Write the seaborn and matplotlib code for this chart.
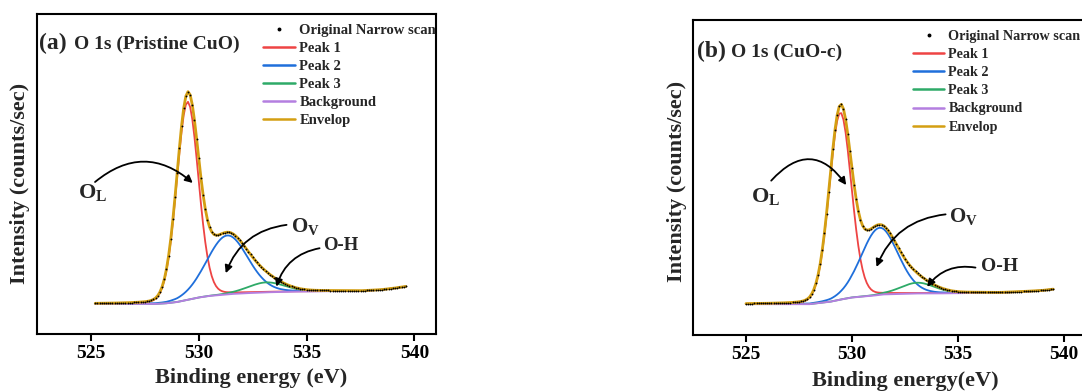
import numpy as np
import matplotlib
matplotlib.use("Agg")
import matplotlib.pyplot as plt
from matplotlib.lines import Line2D
import seaborn as sns

# ---------------- data ----------------
# energy grid of the narrow scans (eV)
scan_range_a = [525.2, 539.6]
scan_range_b = [525.0, 539.5]
scan_step = 0.1

# fitted components: centre (eV), height (axis fraction), FWHM (eV)
peak_names = ["Peak 1", "Peak 2", "Peak 3"]
peak_centers_a = [529.48, 531.32, 533.13]
peak_heights_a = [0.619, 0.184, 0.031]
peak_fwhm_a = [1.19, 2.24, 2.0]

peak_centers_b = [529.45, 531.30, 533.10]
peak_heights_b = [0.594, 0.213, 0.034]
peak_fwhm_b = [1.23, 2.05, 1.9]

lorentz_fraction = 0.1

# background (Shirley-like) read at several energies
bg_energy_a = [525.2, 528.0, 528.5, 529.0, 529.5, 530.0, 530.5, 531.0, 531.5,
               532.0, 533.0, 534.0, 536.0, 537.5, 538.5, 539.0, 539.6]
bg_level_a = [0.094, 0.094, 0.096, 0.100, 0.107, 0.114, 0.119, 0.122, 0.125,
              0.127, 0.130, 0.132, 0.134, 0.134, 0.138, 0.142, 0.148]

bg_energy_b = [525.0, 528.0, 528.5, 529.0, 529.5, 530.0, 530.5, 531.0, 531.5,
               532.0, 533.0, 534.0, 535.0, 536.0, 537.0, 538.0, 539.0, 539.5]
bg_level_b = [0.098, 0.098, 0.102, 0.106, 0.113, 0.119, 0.122, 0.125, 0.129,
              0.130, 0.132, 0.132, 0.133, 0.134, 0.134, 0.137, 0.141, 0.145]

x_ticks = [525, 530, 535, 540]
x_limits = [522.5, 541.0]

colors = {"Peak 1": "#EE4444", "Peak 2": "#1F6FDB", "Peak 3": "#2EAA68",
          "Background": "#B47FE0", "Envelop": "#D49F12"}

# ---------------- style ----------------
sns.set_theme(style="white")
plt.rcParams["font.family"] = ["Liberation Serif", "DejaVu Serif"]
plt.rcParams["font.weight"] = "bold"
plt.rcParams["axes.labelweight"] = "bold"
plt.rcParams["mathtext.fontset"] = "custom"
plt.rcParams["mathtext.rm"] = "Liberation Serif"
plt.rcParams["mathtext.bf"] = "Liberation Serif:bold"
plt.rcParams["mathtext.it"] = "Liberation Serif:italic"


def line_shape(x, c, h, w, eta):
    sig = w / 2.3548
    g = np.exp(-0.5 * ((x - c) / sig) ** 2)
    lo = 1.0 / (1.0 + ((x - c) / (w / 2.0)) ** 2)
    return h * ((1 - eta) * g + eta * lo)


def draw_panel(ax, rng, centers, heights, fwhms, bg_e, bg_y):
    x = np.arange(rng[0], rng[1] + 1e-6, scan_step)
    bg = np.interp(x, bg_e, bg_y)
    comps = [line_shape(x, c, h, w, lorentz_fraction)
             for c, h, w in zip(centers, heights, fwhms)]
    env = bg + np.sum(comps, axis=0)
    for name, comp in zip(peak_names, comps):
        sns.lineplot(x=x, y=bg + comp, ax=ax, color=colors[name], lw=1.3,
                     sort=False, estimator=None, legend=False)
    sns.lineplot(x=x, y=bg, ax=ax, color=colors["Background"], lw=1.4,
                 sort=False, estimator=None, legend=False)
    sns.lineplot(x=x, y=env, ax=ax, color=colors["Envelop"], lw=2.0,
                 sort=False, estimator=None, legend=False)
    sns.scatterplot(x=x, y=env, ax=ax, color="black", s=1.8, linewidth=0,
                    legend=False, zorder=5)

    ax.set_xlim(*x_limits)
    ax.set_ylim(0, 1)
    ax.set_yticks([])
    ax.set_xticks(x_ticks)
    ax.set_xticklabels([str(t) for t in x_ticks], fontsize=14, fontweight="bold")
    ax.tick_params(axis="x", direction="out", length=5, width=1.5, pad=3,
                   bottom=True, colors="black")
    ax.set_xlabel("")
    ax.set_ylabel("")
    for sp in ax.spines.values():
        sp.set_linewidth(1.5)
        sp.set_color("black")
        sp.set_visible(True)


def add_legend(ax, anchor, size, spacing):
    handles = [Line2D([], [], color="black", marker="o", ms=1.8, ls="none")]
    labels = ["Original Narrow scan"]
    for name in ["Peak 1", "Peak 2", "Peak 3", "Background", "Envelop"]:
        handles.append(Line2D([], [], color=colors[name], lw=1.8))
        labels.append(name)
    ax.legend(handles, labels, loc="upper left", bbox_to_anchor=anchor,
              frameon=False, prop={"weight": "bold", "size": size},
              handlelength=2.2, handletextpad=0.3, labelspacing=spacing,
              borderpad=0, borderaxespad=0, numpoints=1)


def arrow(ax, start, end, rad):
    ax.annotate("", xy=end, xytext=start,
                arrowprops=dict(arrowstyle="-|>", color="black", lw=1.3,
                                connectionstyle=f"arc3,rad={rad}",
                                shrinkA=0, shrinkB=0, mutation_scale=11))


fig = plt.figure(figsize=(10.82, 3.92), dpi=100)
ax_a = fig.add_axes([0.0342, 0.1480, 0.3688, 0.8163])
ax_b = fig.add_axes([0.6405, 0.1454, 0.3623, 0.8036])

draw_panel(ax_a, scan_range_a, peak_centers_a, peak_heights_a, peak_fwhm_a,
           bg_energy_a, bg_level_a)
draw_panel(ax_b, scan_range_b, peak_centers_b, peak_heights_b, peak_fwhm_b,
           bg_energy_b, bg_level_b)

add_legend(ax_a, (0.566, 0.970), 10.5, 0.33)
add_legend(ax_b, (0.561, 0.968), 10.2, 0.36)

# panel titles
ax_a.text(0.006, 0.908, "(a)", transform=ax_a.transAxes, fontsize=17,
          fontweight="bold", ha="left", va="center")
ax_a.text(0.092, 0.905, "O 1s (Pristine CuO)", transform=ax_a.transAxes,
          fontsize=14, fontweight="bold", ha="left", va="center")
ax_b.text(0.011, 0.899, "(b)", transform=ax_b.transAxes, fontsize=17,
          fontweight="bold", ha="left", va="center")
ax_b.text(0.098, 0.896, "O 1s (CuO-c)", transform=ax_b.transAxes,
          fontsize=14, fontweight="bold", ha="left", va="center")

# annotations panel a
arrow(ax_a, (525.19, 0.475), (529.72, 0.472), -0.42)
ax_a.text(524.41, 0.424, r"$\mathrm{O_L}$", fontsize=16, ha="left", va="baseline")
arrow(ax_a, (534.07, 0.341), (531.25, 0.190), 0.3)
ax_a.text(534.29, 0.320, r"$\mathbf{O_V}$", fontsize=15, ha="left", va="baseline")
arrow(ax_a, (535.60, 0.268), (533.60, 0.148), 0.3)
ax_a.text(535.75, 0.2625, "O-H", fontsize=13.5, fontweight="bold", ha="left",
          va="baseline")

# annotations panel b
arrow(ax_b, (526.19, 0.490), (529.73, 0.476), -0.62)
ax_b.text(525.22, 0.423, r"$\mathbf{O_L}$", fontsize=16, ha="left", va="baseline")
arrow(ax_b, (534.42, 0.383), (531.16, 0.216), 0.3)
ax_b.text(534.58, 0.360, r"$\mathbf{O_V}$", fontsize=15, ha="left", va="baseline")
arrow(ax_b, (535.83, 0.214), (533.55, 0.153), 0.3)
ax_b.text(536.07, 0.204, "O-H", fontsize=14, fontweight="bold", ha="left",
          va="baseline")

# axis labels
fig.text(20 / 1082, 1 - 183.7 / 392, "Intensity (counts/sec)", rotation=90,
         fontsize=16, fontweight="bold", ha="center", va="center")
fig.text(676.7 / 1082, 1 - 181 / 392, "Intensity (counts/sec)", rotation=90,
         fontsize=16, fontweight="bold", ha="center", va="center")
fig.text(251.3 / 1082, 1 - 383 / 392, "Binding energy (eV)", fontsize=16,
         fontweight="bold", ha="center", va="baseline")
fig.text(905 / 1082, 1 - 386 / 392, "Binding energy(eV)", fontsize=16,
         fontweight="bold", ha="center", va="baseline")

fig.savefig("out.png", dpi=100)
